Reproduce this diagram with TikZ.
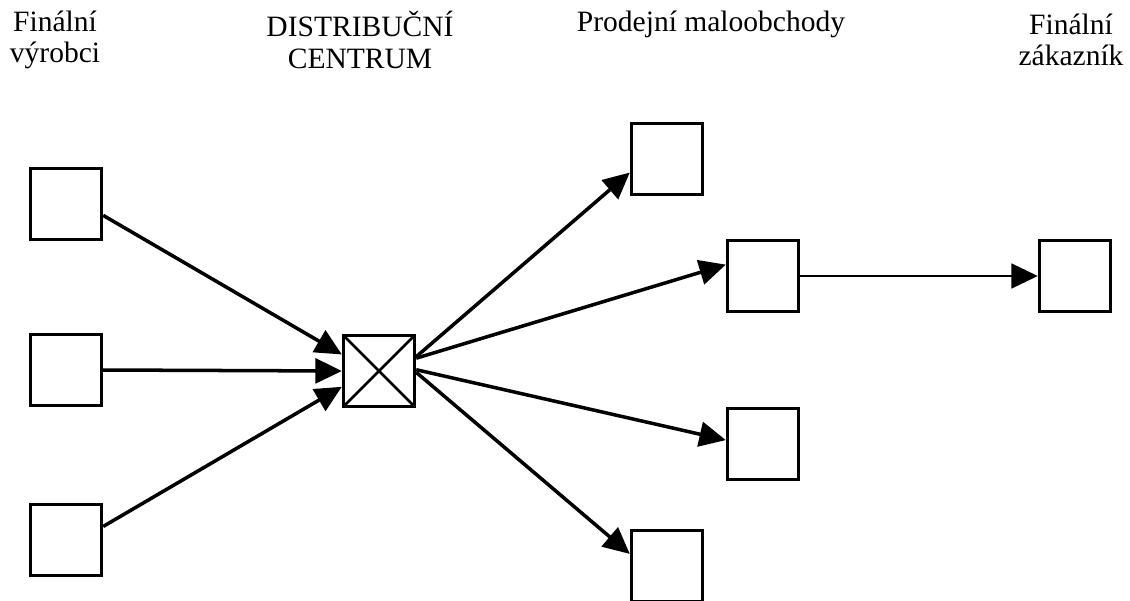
\documentclass[tikz,border=0pt]{standalone}
\usepackage{fontspec}
\setmainfont{Liberation Serif}
\usetikzlibrary{arrows.meta}

\tikzset{
    box/.style={draw, line width=2.4pt, minimum size=1.775cm, inner sep=0pt},
    label/.style={align=center, inner sep=0pt, font=\fontsize{21}{22.5}\selectfont},
    flow/.style={line width=2.5pt, -{Triangle[length=0.66cm, width=0.62cm]}},
}

\begin{document}
\begin{tikzpicture}[x=0.025cm, y=-0.025cm]
        \useasboundingbox (0,0) rectangle (1130,600);

        % column headings
        \node[label] (hv) at (55,40) {Finální\\výrobci};
        \node[label] (hd) at (360,40) {DISTRIBUČNÍ\\CENTRUM};
        \node[label, anchor=base] (hp) at (711,31) {Prodejní maloobchody};
        \node[label] (hz) at (1071,40) {Finální\\zákazník};

        % producers
        \node[box] (v1) at (66,204) {};
        \node[box] (v2) at (66,370) {};
        \node[box] (v3) at (66,540) {};

        % distribution centre
        \node[box, path picture={
            \draw[line width=1.8pt] (path picture bounding box.north west) -- (path picture bounding box.south east);
            \draw[line width=1.8pt] (path picture bounding box.south west) -- (path picture bounding box.north east);
        }] (dc) at (379,371) {};

        % retail shops
        \node[box] (p1) at (667,159) {};
        \node[box] (p2) at (763,276) {};
        \node[box] (p3) at (763,444) {};
        \node[box] (p4) at (667,566) {};

        % final customer
        \node[box] (z1) at (1075,276) {};

        \draw[flow] (v1.-17) -- (dc.156);
        \draw[flow] (v2.east) -- (dc.west);
        \draw[flow] (v3.20) -- (dc.203);

        \draw[flow] (dc.21) -- (p1.200);
        \draw[flow] (dc.19) -- (p2.163);
        \draw[flow] (dc.2) -- (p3.174);
        \draw[flow] (dc.-2) -- (p4.162);

        \draw[flow, line width=1.6pt] (p2.east) -- (z1.west);
    \end{tikzpicture}
\end{document}
